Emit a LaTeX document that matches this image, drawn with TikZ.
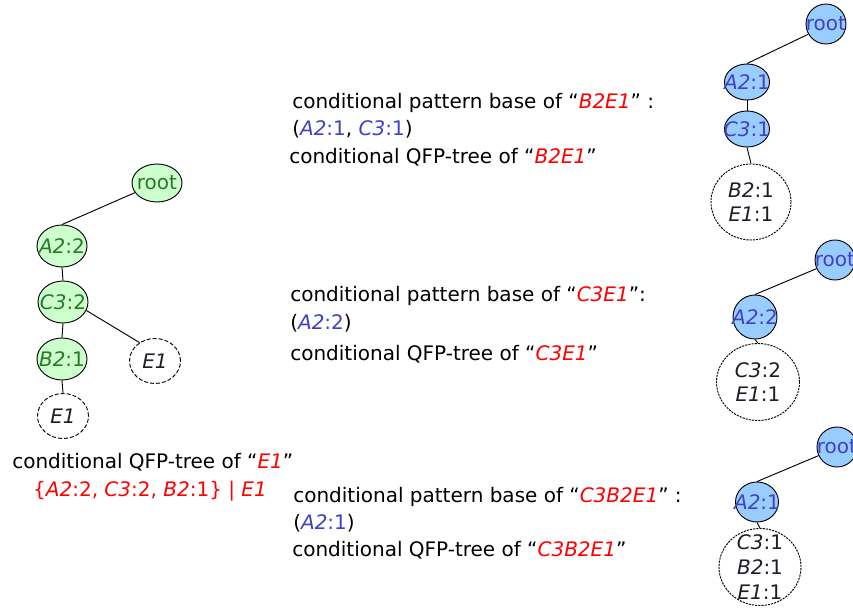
\documentclass[tikz,border=0pt]{standalone}
\usepackage{fontspec}
\setmainfont{DejaVu Sans}
\usetikzlibrary{shapes.geometric}

\definecolor{nodegreen}{RGB}{204,255,204}
\definecolor{textgreen}{RGB}{40,120,40}
\definecolor{nodeblue}{RGB}{153,204,255}
\definecolor{textblue}{RGB}{64,64,200}
\definecolor{qred}{RGB}{255,0,0}
\definecolor{leaftext}{RGB}{30,30,40}

% one screen pixel
\newdimen\pxu \pxu=0.75pt

% item with count: italic name, upright count
\newcommand{\itm}[2]{\textit{#1}:#2}
\newcommand{\rd}[1]{\textcolor{qred}{\textit{#1}}}
\newcommand{\bl}[1]{\textcolor{textblue}{#1}}
\newcommand{\ctr}[1]{\makebox[0pt]{#1}}

\tikzset{
  gnode/.style={ellipse, draw, line width=0.7pt, fill=nodegreen,
    minimum width=50\pxu, minimum height=42\pxu, inner sep=0pt, text=textgreen},
  bnode/.style={ellipse, draw, line width=0.7pt, fill=nodeblue,
    minimum width=44\pxu, minimum height=38\pxu, inner sep=0pt, text=textblue},
  dnode/.style={ellipse, draw, line width=0.7pt, dash pattern=on 3pt off 1.5pt,
    fill=white, minimum width=51\pxu, minimum height=45\pxu, inner sep=0pt, text=leaftext},
  dnodeb/.style={ellipse, draw, line width=0.7pt, dash pattern=on 1.6pt off 0.8pt,
    fill=white, inner sep=0pt, text=leaftext},
  link/.style={draw, line width=0.7pt},
  txt/.style={anchor=west, inner sep=0pt},
  leaflab/.style={align=center, text=leaftext, font=\fontsize{15}{18}\selectfont},
}

\begin{document}
\begin{tikzpicture}[x=0.75pt, y=-0.75pt, font=\fontsize{15}{18}\selectfont]
\fill[white] (0,0) rectangle (853,610);
\useasboundingbox (0,0) rectangle (853,610);

% ---- conditional QFP-tree of E1 ----
\node[gnode, minimum height=38\pxu] (lroot) at (157,183) {\ctr{root}};
\node[gnode] (la) at (62,246) {\ctr{\itm{A2}{2}}};
\node[gnode] (lc) at (63,302) {\ctr{\itm{C3}{2}}};
\node[gnode] (lb) at (62,359) {\ctr{\itm{B2}{1}}};
\node[dnode] (le2) at (155,361) {\ctr{\textit{E1}}};
\node[dnode] (le1) at (63,416) {\ctr{\textit{E1}}};

\draw[link] (la.north) -- (lroot);
\draw[link] (la.south) -- (lc.north);
\draw[link] (lc.south) -- (lb.north);
\draw[link] (lb.south) -- (le1.north);
\draw[link] (lc.-20) -- (le2.130);

\node[txt] (capE) at (12,462) {conditional QFP-tree of “\rd{E1}”};
\node (setE) at (150,491) {\color{qred}\{\itm{A2}{2}, \itm{C3}{2}, \itm{B2}{1}\} | \textit{E1}};

% ---- B2E1 ----
\node[txt] (b1) at (292,103) {conditional pattern base of “\rd{B2E1}” :};
\node[txt] (b2) at (292,129) {(\bl{\itm{A2}{1}}, \bl{\itm{C3}{1}})};
\node[txt] (b3) at (289,157) {conditional QFP-tree of “\rd{B2E1}”};

\node[bnode, minimum width=40\pxu, minimum height=40\pxu] (r1root) at (826,24) {\ctr{root}};
\node[bnode, minimum width=45\pxu, minimum height=36\pxu] (r1a) at (747,82) {\ctr{\textit{A2}:1}};
\node[bnode, minimum width=45\pxu, minimum height=36\pxu] (r1c) at (747,129) {\ctr{\textit{C3}:1}};
\node[dnodeb, minimum width=80\pxu, minimum height=76\pxu,
      label={[leaflab]center:{\itm{B2}{1}\\\itm{E1}{1}}}] (r1d) at (751,202) {};
\draw[link] (r1root.210) -- (r1a.north);
\draw[link] (r1a.south) -- (r1c.north);
\draw[link] (r1c.south) -- (r1d.north);

% ---- C3E1 ----
\node[txt] (c1) at (290,296) {conditional pattern base of “\rd{C3E1}”:};
\node[txt] (c2) at (290,323) {(\bl{\itm{A2}{2}})};
\node[txt] (c3) at (290,354) {conditional QFP-tree of “\rd{C3E1}”};

\node[bnode, minimum width=40\pxu, minimum height=40\pxu] (r2root) at (835,260) {\ctr{root}};
\node[bnode, minimum width=44\pxu, minimum height=44\pxu] (r2a) at (755,317) {\ctr{\textit{A2}:2}};
\node[dnodeb, minimum width=83\pxu, minimum height=77\pxu,
      label={[leaflab]center:{\itm{C3}{2}\\\itm{E1}{1}}}] (r2d) at (758,382) {};
\draw[link] (r2root.205) -- (r2a.north);
\draw[link] (r2a.south) -- (r2d.north);

% ---- C3B2E1 ----
\node[txt] (d1) at (293,497) {conditional pattern base of “\rd{C3B2E1}” :};
\node[txt] (d2) at (293,523) {(\bl{\itm{A2}{1}})};
\node[txt] (d3) at (292,550) {conditional QFP-tree of “\rd{C3B2E1}”};

\node[bnode, minimum width=40\pxu, minimum height=40\pxu] (r3root) at (837,447) {\ctr{root}};
\node[bnode, minimum width=43\pxu, minimum height=40\pxu] (r3a) at (757,502) {\ctr{\textit{A2}:1}};
\node[dnodeb, minimum width=82\pxu, minimum height=77\pxu,
      label={[leaflab, font=\fontsize{15}{18.5}\selectfont]center:{\itm{C3}{1}\\\itm{B2}{1}\\\itm{E1}{1}}}] (r3d) at (760,567) {};
\draw[link] (r3root.205) -- (r3a.north);
\draw[link] (r3a.south) -- (r3d.north);
\end{tikzpicture}
\end{document}
